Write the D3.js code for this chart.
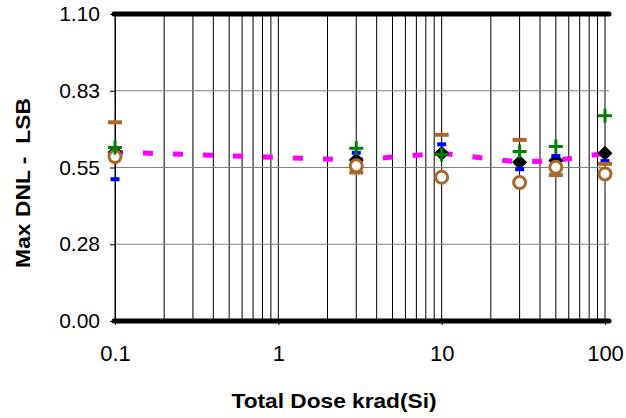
<!DOCTYPE html>
<html><head><meta charset="utf-8">
<script src="https://cdn.jsdelivr.net/npm/d3@7/dist/d3.min.js"></script>
<style>body{margin:0;background:#fff}svg{display:block}text{font-family:Arial,"Liberation Sans",sans-serif}</style>
</head><body>
<svg id="c" width="626" height="418"></svg>
<script>
const doses = [0.1, 3, 10, 30, 50, 100];
const avgVals = [0.605, 0.577, 0.601, 0.569, 0.575, 0.601];
const blueVals = [0.508, 0.603, 0.633, 0.544, 0.591, 0.573];
const brownDashVals = [0.712, 0.532, 0.667, 0.649, 0.523, 0.563];
const greenVals = [0.622, 0.619, 0.597, 0.607, 0.625, 0.735];
const circleVals = [0.589, 0.556, 0.515, 0.496, 0.551, 0.527];
const yTickVals = [0, 0.275, 0.55, 0.825, 1.1];
const yTickLabels = ["0.00", "0.28", "0.55", "0.83", "1.10"];
const xTickVals = [0.1, 1, 10, 100];
const xTickLabels = ["0.1", "1", "10", "100"];

const svg = d3.select("#c");
const L = 115, R = 605, T = 14, B = 321, RE = 609;
const x = d3.scaleLog().domain([0.1, 100]).range([L, R]);
const y = d3.scaleLinear().domain([0, 1.1]).range([B, T]);

// vertical grid (minor log lines)
const vgrid = [];
for (let p = -1; p < 2; p++) for (let m = 1; m <= 9; m++) vgrid.push(m * Math.pow(10, p));
vgrid.push(100);
svg.append("g").selectAll("line").data(vgrid).join("line")
  .attr("x1", d => x(d)).attr("x2", d => x(d)).attr("y1", T).attr("y2", B)
  .attr("stroke", "#000").attr("stroke-width", 1);

// horizontal grid
svg.append("g").selectAll("line").data(yTickVals.slice(1, -1)).join("line")
  .attr("x1", L).attr("x2", RE).attr("y1", d => y(d)).attr("y2", d => y(d))
  .attr("stroke", "#808080").attr("stroke-width", 1);

// y axis
const yAxis = d3.axisLeft(y).tickValues(yTickVals).tickSize(5).tickFormat((d, i) => yTickLabels[i]);
const gy = svg.append("g").attr("transform", `translate(${L},0)`).call(yAxis);
gy.select(".domain").attr("stroke", "#000");
gy.selectAll(".tick line").attr("stroke", "#000");
gy.selectAll(".tick text").attr("font-size", 21).attr("fill", "#000").attr("x", -15)
  .attr("font-family", "Arial, 'Liberation Sans', sans-serif");

// x axis
const xAxis = d3.axisBottom(x).tickValues(xTickVals).tickSize(4).tickFormat((d, i) => xTickLabels[i]);
const gx = svg.append("g").attr("transform", `translate(0,${B})`).call(xAxis);
gx.select(".domain").remove();
gx.selectAll(".tick line").attr("stroke", "#000");
gx.selectAll(".tick text").attr("font-size", 22).attr("fill", "#000").attr("y", 24)
  .attr("font-family", "Arial, 'Liberation Sans', sans-serif");

// thick top and bottom borders
svg.append("g").selectAll("line").data([1.1, 0]).join("line")
  .attr("x1", L - 1).attr("x2", RE).attr("y1", d => y(d)).attr("y2", d => y(d))
  .attr("stroke", "#000").attr("stroke-width", 5).attr("stroke-linecap", "round");

// magenta dashed line through averages
const pts = doses.map((d, i) => [d, avgVals[i]]);
svg.append("path").datum(pts)
  .attr("d", d3.line().x(d => x(d[0])).y(d => y(d[1])))
  .attr("fill", "none").attr("stroke", "#FF00FF").attr("stroke-width", 5)
  .attr("stroke-dasharray", "10,20").attr("stroke-dashoffset", -28);

const brown = "#A8692F";
// diamonds
svg.append("g").selectAll("path").data(pts).join("path")
  .attr("transform", d => `translate(${x(d[0])},${y(d[1])})`)
  .attr("d", "M0,-7.5L7.5,0L0,7.5L-7.5,0Z").attr("fill", "#000");
// blue dashes
svg.append("g").selectAll("rect").data(doses.map((d, i) => [d, blueVals[i]])).join("rect")
  .attr("x", d => x(d[0]) - 4.5).attr("y", d => y(d[1]) - 2).attr("width", 9).attr("height", 4)
  .attr("fill", "#0000FF");
// brown dashes
svg.append("g").selectAll("rect").data(doses.map((d, i) => [d, brownDashVals[i]])).join("rect")
  .attr("x", d => x(d[0]) - 7).attr("y", d => y(d[1]) - 2).attr("width", 14).attr("height", 4)
  .attr("fill", brown);
// circles
svg.append("g").selectAll("circle").data(doses.map((d, i) => [d, circleVals[i]])).join("circle")
  .attr("cx", d => x(d[0])).attr("cy", d => y(d[1])).attr("r", 6)
  .attr("fill", "#fff").attr("stroke", brown).attr("stroke-width", 3);
// green plus
svg.append("g").selectAll("path").data(doses.map((d, i) => [d, greenVals[i]])).join("path")
  .attr("transform", d => `translate(${x(d[0])},${y(d[1])})`)
  .attr("d", "M-7,0H7M0,-7V7").attr("stroke", "#008000").attr("stroke-width", 3).attr("fill", "none");

// axis titles
svg.append("text").attr("x", 334).attr("y", 408).attr("text-anchor", "middle")
  .attr("font-size", 21).attr("font-weight", "bold")
  .attr("textLength", 205).attr("lengthAdjust", "spacingAndGlyphs").text("Total Dose krad(Si)");
svg.append("text").attr("transform", "translate(30,183) rotate(-90)").attr("text-anchor", "middle")
  .attr("font-size", 21).attr("font-weight", "bold").style("white-space", "pre")
  .attr("textLength", 170).attr("lengthAdjust", "spacingAndGlyphs")
  .text("Max DNL -  LSB");
</script>
</body></html>
